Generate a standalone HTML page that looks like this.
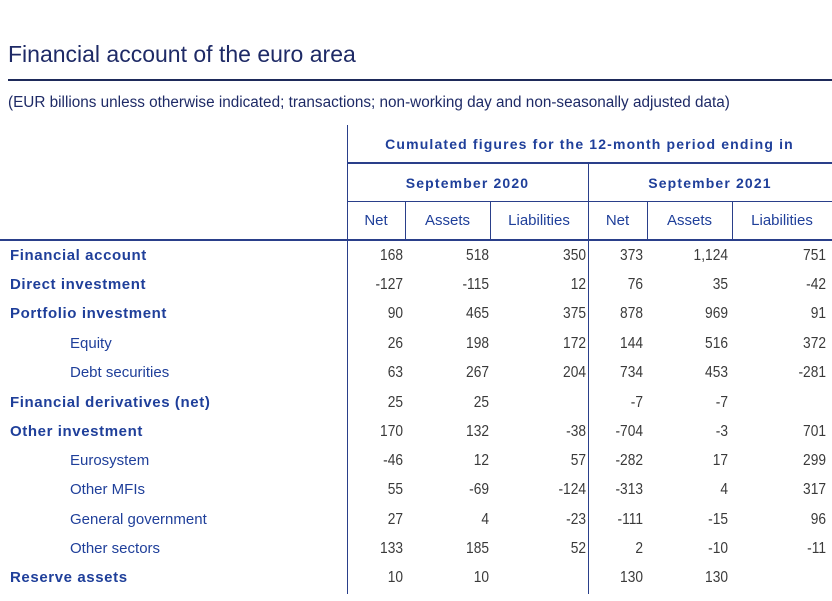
<!DOCTYPE html>
<html><head><meta charset="utf-8"><style>
body{margin:0;width:832px;height:601px;background:#fff;position:relative;overflow:hidden;font-family:"Liberation Sans",sans-serif}
div{position:absolute;white-space:nowrap}
.l{background:#2a3f8a}
.lab{left:10px;color:#1f3f9a;font-size:15px;line-height:18px}
.b{font-weight:bold;letter-spacing:0.6px}
.ind{left:70px;font-weight:normal;letter-spacing:0}
.n{color:#3a3a3a;font-size:16px;line-height:18px;text-align:right;width:60px;transform:scaleX(0.86);transform-origin:right center}
.h{color:#1f3f9a;font-size:15px;line-height:18px;text-align:center}
.hb{font-weight:bold;font-size:14px;letter-spacing:1.15px}
</style></head><body>
<div style="left:8px;top:41px;font-size:23px;color:#1e2a66">Financial account of the euro area</div>
<div class="l" style="left:8px;top:79px;width:824px;height:2px;background:#1e2a5a"></div>
<div style="left:8px;top:94px;font-size:15.3px;color:#1e2a66">(EUR billions unless otherwise indicated; transactions; non-working day and non-seasonally adjusted data)</div>

<div class="l" style="left:347px;top:125px;width:1px;height:469px"></div>
<div class="l" style="left:588px;top:163px;width:1px;height:431px"></div>
<div class="l" style="left:347px;top:162px;width:485px;height:2px"></div>
<div class="l" style="left:347px;top:201px;width:485px;height:1px"></div>
<div class="l" style="left:0;top:239px;width:832px;height:2px"></div>
<div class="l" style="left:405px;top:202px;width:1px;height:38px"></div>
<div class="l" style="left:490px;top:202px;width:1px;height:38px"></div>
<div class="l" style="left:647px;top:202px;width:1px;height:38px"></div>
<div class="l" style="left:732px;top:202px;width:1px;height:38px"></div>

<div class="h hb" style="left:347px;width:485px;top:135px">Cumulated figures for the 12-month period ending in</div>
<div class="h hb" style="left:347px;width:241px;top:174px">September 2020</div>
<div class="h hb" style="left:588px;width:244px;top:174px">September 2021</div>
<div class="h" style="left:347px;width:58px;top:212px">Net</div>
<div class="h" style="left:405px;width:85px;top:212px">Assets</div>
<div class="h" style="left:490px;width:98px;top:212px">Liabilities</div>
<div class="h" style="left:588px;width:59px;top:212px">Net</div>
<div class="h" style="left:647px;width:85px;top:212px">Assets</div>
<div class="h" style="left:732px;width:100px;top:212px">Liabilities</div>

<div class="lab b" style="top:247px">Financial account</div>
<div class="lab b" style="top:276px">Direct investment</div>
<div class="lab b" style="top:305px">Portfolio investment</div>
<div class="lab ind" style="top:335px">Equity</div>
<div class="lab ind" style="top:364px">Debt securities</div>
<div class="lab b" style="top:394px">Financial derivatives (net)</div>
<div class="lab b" style="top:423px">Other investment</div>
<div class="lab ind" style="top:452px">Eurosystem</div>
<div class="lab ind" style="top:481px">Other MFIs</div>
<div class="lab ind" style="top:511px">General government</div>
<div class="lab ind" style="top:540px">Other sectors</div>
<div class="lab b" style="top:569px">Reserve assets</div>

<div id="nums"></div>
<script>
var rows=[
["168","518","350","373","1,124","751"],
["-127","-115","12","76","35","-42"],
["90","465","375","878","969","91"],
["26","198","172","144","516","372"],
["63","267","204","734","453","-281"],
["25","25","","-7","-7",""],
["170","132","-38","-704","-3","701"],
["-46","12","57","-282","17","299"],
["55","-69","-124","-313","4","317"],
["27","4","-23","-111","-15","96"],
["133","185","52","2","-10","-11"],
["10","10","","130","130",""]];
var tops=[247,276,305,335,364,394,423,452,481,511,540,569];
var rights=[403,489,586,643,728,826];
var h="";
rows.forEach(function(r,i){r.forEach(function(v,j){if(v)h+='<div class="n" style="top:'+tops[i]+'px;left:'+(rights[j]-60)+'px">'+v+'</div>';});});
document.getElementById("nums").outerHTML=h;
</script>
</body></html>
